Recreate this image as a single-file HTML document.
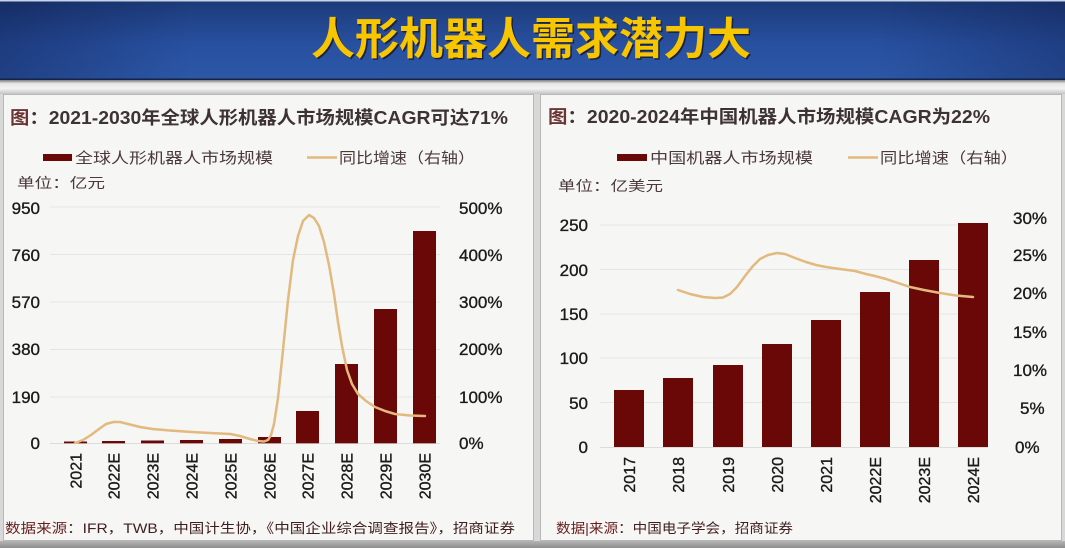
<!DOCTYPE html>
<html><head><meta charset="utf-8"><style>
html,body{margin:0;padding:0;background:#dcdcdc;}
svg{display:block;}
text{font-family:"Liberation Sans","Noto Sans CJK SC",sans-serif;}
.cj{font-family:"Liberation Sans","Noto Sans CJK SC",sans-serif;}
.tk{stroke:#1a1a1a;stroke-width:0.35;}
</style></head><body>
<svg width="1065" height="548" viewBox="0 0 1065 548" xmlns="http://www.w3.org/2000/svg">
<defs>
<linearGradient id="bv" x1="0" y1="0" x2="0" y2="1">
<stop offset="0" stop-color="#1c3a78"/><stop offset="0.55" stop-color="#2850a0"/><stop offset="1" stop-color="#2c58a7"/>
</linearGradient>
<linearGradient id="bh" x1="0" y1="0" x2="1" y2="0">
<stop offset="0" stop-color="#0a1440" stop-opacity="0.35"/><stop offset="0.18" stop-color="#0a1440" stop-opacity="0"/>
<stop offset="0.82" stop-color="#0a1440" stop-opacity="0"/><stop offset="1" stop-color="#0a1440" stop-opacity="0.3"/>
</linearGradient>
<linearGradient id="st" x1="0" y1="0" x2="0" y2="1">
<stop offset="0" stop-color="#7d7d7d"/><stop offset="0.25" stop-color="#e6e6e6"/><stop offset="0.6" stop-color="#f4f4f4"/><stop offset="1" stop-color="#c4c4c4"/>
</linearGradient>
<linearGradient id="bt" x1="0" y1="0" x2="0" y2="1">
<stop offset="0" stop-color="#b5b5b5"/><stop offset="1" stop-color="#8d8d8d"/>
</linearGradient>
</defs>

<rect x="0" y="0" width="1065" height="548" fill="#d8d8d8"/>
<!-- banner -->
<rect x="0" y="0" width="1065" height="80" fill="url(#bv)"/>
<rect x="0" y="0" width="1065" height="80" fill="url(#bh)"/>
<rect x="0" y="0" width="1065" height="1.5" fill="#c9d3e6"/>
<rect x="0" y="78.5" width="1065" height="1.5" fill="#13234a"/>
<text x="312.5" y="55.5" font-size="44" font-weight="bold" fill="#1a2244" textLength="440" lengthAdjust="spacingAndGlyphs" class="cj">人形机器人需求潜力大</text>
<text x="311" y="54" font-size="44" font-weight="bold" fill="#f8c600" textLength="440" lengthAdjust="spacingAndGlyphs" class="cj">人形机器人需求潜力大</text>

<!-- strip -->
<rect x="0" y="80" width="1065" height="14" fill="url(#st)"/>

<!-- panels -->
<rect x="3.5" y="94.5" width="530" height="446" fill="#f6f6f4" stroke="#b8b8b8"/>
<rect x="540.5" y="94.5" width="521" height="446" fill="#f6f6f4" stroke="#b8b8b8"/>
<rect x="0" y="541" width="1065" height="7" fill="url(#bt)"/>

<!-- LEFT CHART -->
<text x="10" y="124" font-size="18" font-weight="bold" fill="#3d3333" textLength="498" lengthAdjust="spacingAndGlyphs" class="cj"><tspan fill="#6b3535">图</tspan>：2021-2030年全球人形机器人市场规模CAGR可达71%</text>
<rect x="43" y="154" width="29" height="7" fill="#6a0808"/>
<text x="75" y="163" font-size="15" fill="#4a3a3a" textLength="198" lengthAdjust="spacingAndGlyphs" class="cj">全球人形机器人市场规模</text>
<line x1="307" y1="157.5" x2="337" y2="157.5" stroke="#e2b97f" stroke-width="2.5"/>
<text x="339" y="163" font-size="15" fill="#4a3a3a" textLength="136" lengthAdjust="spacingAndGlyphs" class="cj">同比增速（右轴）</text>
<text x="17" y="188" font-size="14" fill="#4a3a3a" textLength="88" lengthAdjust="spacingAndGlyphs" class="cj">单位：亿元</text>

<g stroke="#e5e5e3" stroke-width="1">
<line x1="50" y1="207" x2="440" y2="207"/>
<line x1="50" y1="254.5" x2="440" y2="254.5"/>
<line x1="50" y1="302" x2="440" y2="302"/>
<line x1="50" y1="349.5" x2="440" y2="349.5"/>
<line x1="50" y1="397" x2="440" y2="397"/>
<line x1="50" y1="443.5" x2="440" y2="443.5" stroke="#dcdcda"/>
</g>
<g font-size="17" fill="#1a1a1a" text-anchor="end" class="tk">
<text x="40" y="214">950</text>
<text x="40" y="261">760</text>
<text x="40" y="308">570</text>
<text x="40" y="355">380</text>
<text x="40" y="403">190</text>
<text x="40" y="449">0</text>
</g>
<g font-size="17" fill="#1a1a1a" class="tk">
<text x="459" y="214">500%</text>
<text x="459" y="261">400%</text>
<text x="459" y="308">300%</text>
<text x="459" y="355">200%</text>
<text x="459" y="403">100%</text>
<text x="459" y="449">0%</text>
</g>
<g fill="#6a0808">
<rect x="64" y="441.5" width="23" height="1.8"/>
<rect x="102" y="441" width="23" height="2.3"/>
<rect x="141" y="440.5" width="23" height="2.8"/>
<rect x="180" y="440" width="23" height="3.3"/>
<rect x="219" y="439" width="23" height="4.3"/>
<rect x="258" y="437" width="23" height="6.3"/>
<rect x="296" y="411" width="23" height="32.3"/>
<rect x="335" y="364" width="23" height="79.3"/>
<rect x="374" y="309" width="23" height="134.3"/>
<rect x="413" y="231" width="23" height="212.3"/>
</g>
<polyline fill="none" stroke="#e2b97f" stroke-width="2.5" stroke-linejoin="round" stroke-linecap="round" points="75,443 83,440 91,435 99,429 106,424 113.5,422 120,422 128,424 140,427 152.5,429 170,430.5 191.5,432 210,433 230.5,434 240,436 250,439 258,441 264,441.5 268,440 271,435 274,424 278,398 283,350 288,300 293,260 298,236 303,221 309,215 314,218 319,226 324,242 329,265 334,294 338,322 342,346 347,370 352,384 358,394 366,401 375,407 385,411 395,414 410,415.5 425,416"/>
<g font-size="16" fill="#1a1a1a" text-anchor="end" class="tk">
<text transform="translate(81.5,453) rotate(-90)">2021</text>
<text transform="translate(119.5,453) rotate(-90)">2022E</text>
<text transform="translate(158.5,453) rotate(-90)">2023E</text>
<text transform="translate(197.5,453) rotate(-90)">2024E</text>
<text transform="translate(236.5,453) rotate(-90)">2025E</text>
<text transform="translate(275.5,453) rotate(-90)">2026E</text>
<text transform="translate(313.5,453) rotate(-90)">2027E</text>
<text transform="translate(352.5,453) rotate(-90)">2028E</text>
<text transform="translate(391.5,453) rotate(-90)">2029E</text>
<text transform="translate(430.5,453) rotate(-90)">2030E</text>
</g>
<text x="5" y="533" font-size="13.5" fill="#3e1e1e" textLength="510" lengthAdjust="spacingAndGlyphs" class="cj"><tspan fill="#6a2020">数据来源</tspan>：IFR，TWB，中国计生协，《中国企业综合调查报告》，招商证券</text>

<!-- RIGHT CHART -->
<text x="548" y="123" font-size="18" font-weight="bold" fill="#3d3333" textLength="442" lengthAdjust="spacingAndGlyphs" class="cj"><tspan fill="#6b3535">图</tspan>：2020-2024年中国机器人市场规模CAGR为22%</text>
<rect x="617" y="154" width="30" height="7" fill="#6a0808"/>
<text x="650" y="163" font-size="15" fill="#4a3a3a" textLength="163" lengthAdjust="spacingAndGlyphs" class="cj">中国机器人市场规模</text>
<line x1="848" y1="157.5" x2="878" y2="157.5" stroke="#e2b97f" stroke-width="2.5"/>
<text x="880" y="163" font-size="15" fill="#4a3a3a" textLength="138" lengthAdjust="spacingAndGlyphs" class="cj">同比增速（右轴）</text>
<text x="558" y="191" font-size="14" fill="#4a3a3a" textLength="105" lengthAdjust="spacingAndGlyphs" class="cj">单位：亿美元</text>

<g stroke="#e5e5e3" stroke-width="1">
<line x1="600" y1="225" x2="988" y2="225"/>
<line x1="600" y1="269.5" x2="988" y2="269.5"/>
<line x1="600" y1="314" x2="988" y2="314"/>
<line x1="600" y1="358" x2="988" y2="358"/>
<line x1="600" y1="402.5" x2="988" y2="402.5"/>
<line x1="600" y1="447.5" x2="988" y2="447.5" stroke="#dcdcda"/>
</g>
<g font-size="17" fill="#1a1a1a" text-anchor="end" class="tk">
<text x="588" y="231">250</text>
<text x="588" y="276">200</text>
<text x="588" y="320">150</text>
<text x="588" y="364">100</text>
<text x="588" y="409">50</text>
<text x="588" y="453">0</text>
</g>
<g font-size="17" fill="#1a1a1a" class="tk">
<text x="1013" y="224">30%</text>
<text x="1013" y="261">25%</text>
<text x="1013" y="299">20%</text>
<text x="1013" y="338">15%</text>
<text x="1013" y="376">10%</text>
<text x="1020" y="414">5%</text>
<text x="1015" y="453">0%</text>
</g>
<g fill="#6a0808">
<rect x="614" y="390" width="30" height="57"/>
<rect x="663" y="378" width="30" height="69"/>
<rect x="713" y="365" width="30" height="82"/>
<rect x="762" y="344" width="30" height="103"/>
<rect x="811" y="320" width="30" height="127"/>
<rect x="860" y="292" width="30" height="155"/>
<rect x="909" y="260" width="30" height="187"/>
<rect x="958" y="223" width="30" height="224"/>
</g>
<polyline fill="none" stroke="#e2b97f" stroke-width="2.5" stroke-linejoin="round" stroke-linecap="round" points="678,290 690,294 703,297 715,298 723,297.5 730,294 737,287 745,276 753,266 760,259 768,255 777,253 785,254 795,258 806,262 816,265 826,267 840,269 855,271 866,274 875,276 886,279 898,283 910,287 924,290 940,293 956,295.5 973,297"/>
<g font-size="16" fill="#1a1a1a" text-anchor="end" class="tk">
<text transform="translate(635,457) rotate(-90)">2017</text>
<text transform="translate(684,457) rotate(-90)">2018</text>
<text transform="translate(734,457) rotate(-90)">2019</text>
<text transform="translate(783,457) rotate(-90)">2020</text>
<text transform="translate(832,457) rotate(-90)">2021</text>
<text transform="translate(881,457) rotate(-90)">2022E</text>
<text transform="translate(930,457) rotate(-90)">2023E</text>
<text transform="translate(979,457) rotate(-90)">2024E</text>
</g>
<text x="556" y="533" font-size="13.5" fill="#3e1e1e" textLength="237" lengthAdjust="spacingAndGlyphs" class="cj"><tspan fill="#6a2020">数据|来源</tspan>：中国电子学会，招商证券</text>
</svg>
</body></html>
